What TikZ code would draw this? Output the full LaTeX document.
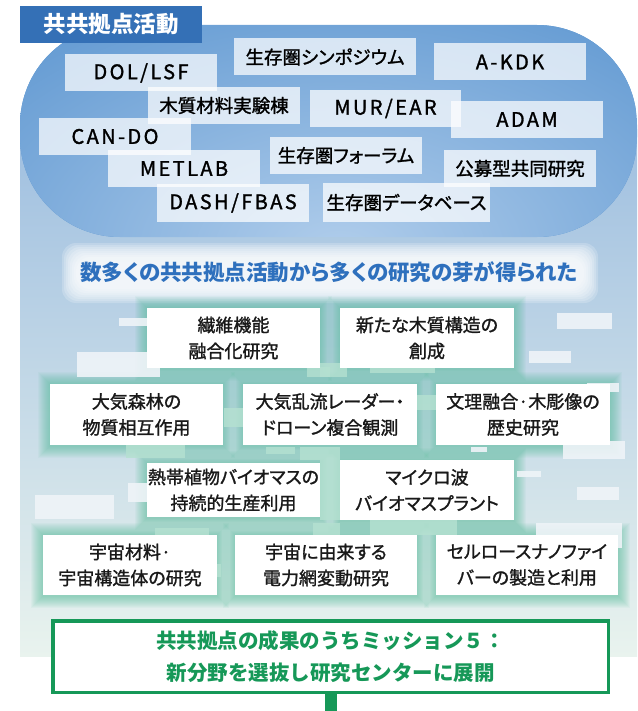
\documentclass[tikz,border=0pt]{standalone}
\usepackage{fontspec}
\setmainfont{Noto Sans CJK JP}[RawFeature=+palt]
\newfontfamily\medfont{Noto Sans CJK JP}[RawFeature=+palt, FakeBold=1.4]
\newfontfamily\latfont{Noto Sans CJK JP}[LetterSpace=12, FakeBold=1.4]
\newfontfamily\fullfont{Noto Sans CJK JP}
\pgfdeclarelayer{bglayer}
\pgfdeclarelayer{glowlayer}
\pgfsetlayers{bglayer,glowlayer,main}
\definecolor{blobBase}{HTML}{5591CE}
\definecolor{blobLight}{HTML}{B0CDEB}
\definecolor{titleBlue}{HTML}{3470B6}
\definecolor{midBlue}{HTML}{2E70BD}
\definecolor{panelTop}{HTML}{9FBFE0}
\definecolor{panelBot}{HTML}{E9F3EE}
\definecolor{glowGreen}{HTML}{45B890}
\definecolor{mint}{HTML}{B5E1D1}
\definecolor{paleW}{HTML}{EFF4F8}
\definecolor{finGreen}{HTML}{169858}
\begin{document}
\begin{tikzpicture}[x=1pt,y=-1pt,
  lbl/.style={rectangle, fill=white, fill opacity=0.72, text opacity=1, inner sep=0pt,
    minimum width=152pt, minimum height=37pt, text=black,
    font=\medfont\fontsize{18.5pt}{22pt}\selectfont},
  latlbl/.style={lbl, font=\latfont\fontsize{20pt}{22pt}\selectfont},
  resbox/.style={rectangle, fill=white, inner sep=0pt, align=center, text=black!90,
    minimum width=174pt, minimum height=60pt,
    font=\medfont\fontsize{18pt}{26pt}\selectfont},
  titlebox/.style={rectangle, fill=titleBlue, text=white, inner sep=0pt,
    minimum width=182pt, minimum height=37pt, font=\bfseries\fontsize{22.5pt}{24pt}\selectfont},
  midtitle/.style={text=midBlue, inner sep=0pt, font=\bfseries\fontsize{21.5pt}{24pt}\selectfont},
  finbox/.style={rectangle, draw=finGreen, line width=3.5pt, fill=white, align=center,
    text=finGreen, inner sep=0pt, minimum width=555.5pt, minimum height=71.5pt,
    font=\fullfont\bfseries\fontsize{20.5pt}{32pt}\selectfont},
  glowstep/.style={fill=glowGreen, opacity=0.05},
  mintrect/.style={fill=mint, opacity=0.8},
  palerect/.style={fill=paleW, opacity=0.9}
]
\useasboundingbox (0,0) rectangle (637,711);

% ---------- background ----------
\begin{pgfonlayer}{bglayer}
  \shade[top color=panelTop, bottom color=panelBot] (20,130) rectangle (637,656);
  \begin{scope}
    \clip[rounded corners=100pt] (20,25) rectangle (637,237);
    \fill[blobBase] (20,25) rectangle (637,237);
    \shade[inner color=blobLight, outer color=blobBase] (340,250) ellipse [x radius=560pt, y radius=330pt];
  \end{scope}
  \foreach \k in {0,2,...,14}
    \fill[white, opacity=0.2, rounded corners=14pt] ({76-\k},{257-\k}) rectangle ({584+\k},{289+\k});
\end{pgfonlayer}

% ---------- title ----------
\node[titlebox] (ttl) at (111,24.5) {共共拠点活動};

% ---------- labels in blob ----------
\node[latlbl] (dol) at (141,73) {DOL/LSF};
\node[lbl, minimum width=182pt] (sym) at (325,57) {生存圏シンポジウム};
\node[latlbl] (akdk) at (510,62) {A-KDK};
\node[lbl] (moku) at (224,105.5) {木質材料実験棟};
\node[latlbl, minimum width=151pt] (mur) at (385.5,108.5) {MUR/EAR};
\node[latlbl] (adam) at (527,119.5) {ADAM};
\node[latlbl] (cando) at (115,136.5) {CAN-DO};
\node[lbl] (forum) at (346,155.5) {生存圏フォーラム};
\node[lbl] (kobo) at (520,168.5) {公募型共同研究};
\node[latlbl] (metlab) at (184,168.5) {METLAB};
\node[latlbl, minimum height=38pt] (dash) at (233,203) {DASH/FBAS};
\node[lbl, minimum width=167pt, minimum height=39pt] (db) at (406.5,202.5) {生存圏データベース};

% ---------- middle title ----------
\node[midtitle] (mid) at (329,272) {数多くの共共拠点活動から多くの研究の芽が得られた};

% ---------- research boxes ----------
\node[resbox, minimum width=173pt] (r1) at (233.5,338) {繊維機能\\融合化研究};
\node[resbox] (r2) at (427,338) {新たな木質構造の\\創成};
\node[resbox, minimum width=173pt, minimum height=61pt] (r3) at (136.5,414.5) {大気森林の\\物質相互作用};
\node[resbox, minimum height=61pt] (r4) at (330,414.5) {大気乱流レーダー・\\ドローン複合観測};
\node[resbox, minimum height=61pt] (r5) at (523,414.5) {文理融合·木彫像の\\歴史研究};
\node[resbox, minimum width=173pt, minimum height=54pt] (r6) at (233.5,490) {熱帯植物バイオマスの\\持続的生産利用};
\node[resbox] (r7) at (427,490) {マイクロ波\\バイオマスプラント};
\node[resbox] (r8) at (130,565) {宇宙材料·\\宇宙構造体の研究};
\node[resbox, minimum width=182pt] (r9) at (326,565) {宇宙に由来する\\電力網変動研究};
\node[resbox, minimum width=182pt] (r10) at (527,565) {セルロースナノファイ\\バーの製造と利用};

% ---------- glow and decorations ----------
\begin{pgfonlayer}{glowlayer}
  \foreach \nm in {r1,r2,r3,r4,r5,r6,r7,r8,r9,r10} {
    \foreach \k in {1,...,12} {
      \fill[glowstep] ([xshift=-\k pt, yshift=\k pt]\nm.north west) rectangle ([xshift=\k pt, yshift=-\k pt-1pt]\nm.south east);
    }
  }
  % mint blocks
  \fill[mintrect] (307,367) rectangle (330,377);
  \fill[mintrect] (224,408) rectangle (243,427);
  \fill[mintrect] (126,445) rectangle (185,458);
  \fill[mintrect] (266,447) rectangle (295,454);
  \fill[mintrect] (300,447) rectangle (340,460);
  \fill[mintrect] (370,368) rectangle (435,373);
  \fill[mintrect] (320,363) rectangle (347,377);
  \fill[mintrect] (417,395) rectangle (436,410);
  \fill[mintrect] (155,528) rectangle (209,535);
  \fill[mintrect] (313,523) rectangle (340,535);
  \fill[mintrect] (370,519) rectangle (457,535);
  \fill[mintrect] (320,460) rectangle (340,520);
  \fill[mintrect] (217,564) rectangle (221,577);
  % pale blocks
  \fill[palerect] (557,313) rectangle (612,329);
  \fill[palerect] (529,351) rectangle (571,363);
  \fill[palerect] (563,441) rectangle (625,459);
  \fill[palerect] (517,471) rectangle (541,477);
  \fill[palerect] (577,487) rectangle (619,500);
  \fill[palerect] (35,495) rectangle (114,519);
  \fill[palerect] (128,483) rectangle (147,502);
  \fill[palerect] (119,318) rectangle (147,326);
  \fill[palerect] (77,352) rectangle (160,377);
  \fill[palerect] (536,523) rectangle (622,548);
  \fill[palerect] (587,383) rectangle (619,392);
  \fill[palerect] (471,447) rectangle (487,452);
\end{pgfonlayer}

% ---------- final box and stem ----------
\node[finbox] (fin) at (330.5,656.5) {共共拠点の成果のうちミッション５：\\新分野を選抜し研究センターに展開};
\coordinate (stemEnd) at (331,711);
\draw[finGreen, line width=12pt] (fin.south) -- (fin.south |- stemEnd);
\end{tikzpicture}
\end{document}
